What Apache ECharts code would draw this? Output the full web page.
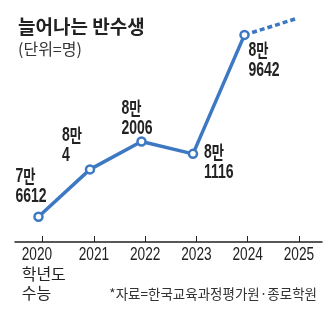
<!DOCTYPE html>
<html>
<head>
<meta charset="utf-8">
<script src="https://cdn.jsdelivr.net/npm/echarts@6/dist/echarts.min.js"></script>
<style>
  html, body { margin: 0; padding: 0; background: #fff; }
  #chart { width: 336px; height: 332px; }
</style>
</head>
<body>
<div id="chart"></div>
<script>
// Suneung applicants re-taking the exam while enrolled in university
const years = [2020, 2021, 2022, 2023, 2024, 2025];
const yearLabels = ['2020', '2021', '2022', '2023', '2024', '2025'];
const firstYearNote = ['학년도', '수능'];
const applicants = [76612, 80004, 82006, 81116, 89642];   // 2020–2024 actual
const forecast2025 = 90800;                                 // 2025 projection (dashed)

// where each value label sits relative to its point (text box top-left)
const labelOffsets = [[-23, -50], [-28, -44], [-20, -43], [11, -11], [4, 6]];

const BLUE = '#3d78c2';
const INK = '#222';
const SANS = "'Liberation Sans', 'Noto Sans CJK KR', sans-serif";
const KR = "'Noto Sans CJK KR', sans-serif";
const NARROW_X = 0.7;   // horizontal squeeze for the condensed figures

// "8만\n9642" style: ten-thousands + 만, then the remainder
const fmtMan = v => '{d|' + Math.floor(v / 10000) + '}{k|만}\n{d|' + (v % 10000) + '}';

const actualData = applicants.map((v, i) => [years[i], v]);
const forecastData = [
  [years[4], applicants[4]],
  [years[5], forecast2025]
];

const chart = echarts.init(document.getElementById('chart'), null, { renderer: 'canvas' });
chart.setOption({
  animation: false,
  title: [
    {
      text: '늘어나는 반수생', left: 13, top: 12,
      textStyle: { fontFamily: KR, fontSize: 19, fontWeight: 'bold', color: INK }
    },
    {
      text: '(단위=명)', left: 13, top: 36,
      textStyle: { fontFamily: KR, fontSize: 16, fontWeight: 'normal', color: '#333' }
    },
    {
      text: '*자료=한국교육과정평가원·종로학원', right: 14, top: 282,
      textStyle: { fontFamily: KR, fontSize: 13.5, fontWeight: 'normal', color: '#333' }
    }
  ],
  grid: { left: 15, right: 14, top: 2, bottom: 90, containLabel: false },
  xAxis: [
    {
      // visible year axis (labels drawn by the custom series below)
      type: 'value', min: 2019.46, max: 2025.45,
      axisLine: { show: true, lineStyle: { color: INK, width: 1.5 } },
      axisTick: { show: true, inside: true, length: 6, customValues: years, lineStyle: { color: INK, width: 1 } },
      splitLine: { show: false },
      axisLabel: { show: false }
    },
    {
      // data positioning axis
      type: 'value', min: 2019.544, max: 2025.505, show: false
    }
  ],
  yAxis: {
    type: 'value', min: 74800, max: 92000, show: false,
    splitLine: { show: false }
  },
  series: [
    {
      type: 'line',
      xAxisIndex: 1,
      data: forecastData,
      symbol: 'none',
      z: 1,
      lineStyle: { color: BLUE, width: 3.5, type: [5, 3] }
    },
    {
      type: 'line',
      xAxisIndex: 1,
      data: actualData,
      z: 3,
      symbol: 'circle',
      symbolSize: 8,
      itemStyle: { color: '#fff', borderColor: BLUE, borderWidth: 2.5 },
      lineStyle: { color: BLUE, width: 3.5 },
      emphasis: { disabled: true }
    },
    {
      // value labels in condensed figures
      type: 'custom',
      xAxisIndex: 1,
      clip: false,
      z: 4,
      data: actualData,
      renderItem: (params, api) => {
        const v = api.value(1);
        const p = api.coord([api.value(0), v]);
        const off = labelOffsets[params.dataIndex];
        return {
          type: 'text',
          x: p[0] + off[0], y: p[1] + off[1],
          scaleX: NARROW_X,
          style: {
            text: fmtMan(v), fill: INK,
            fontFamily: SANS, fontSize: 20, fontWeight: 'bold', lineHeight: 20,
            align: 'left', verticalAlign: 'top',
            rich: {
              d: { fontFamily: SANS, fontSize: 20, fontWeight: 'bold', lineHeight: 20, fill: INK },
              k: { fontFamily: KR, fontSize: 19, fontWeight: 'bold', lineHeight: 20, fill: INK }
            }
          }
        };
      }
    },
    {
      // year tick labels
      type: 'custom',
      xAxisIndex: 0,
      clip: false,
      z: 4,
      data: years.map(y => [y, 74800]),
      renderItem: (params, api) => {
        const i = params.dataIndex;
        const p = api.coord([api.value(0), api.value(1)]);
        const first = i === 0;
        const x = first ? p[0] - 21 : p[0];
        const children = [{
          type: 'text', x: x, y: p[1] + 3, scaleX: 0.72,
          style: {
            text: yearLabels[i], fill: INK,
            fontFamily: SANS, fontSize: 19, lineHeight: 19,
            align: first ? 'left' : 'center', verticalAlign: 'top'
          }
        }];
        if (first) {
          children.push({
            type: 'text', x: x, y: p[1] + 22,
            style: {
              text: firstYearNote.join('\n'), fill: INK,
              fontFamily: KR, fontSize: 16, lineHeight: 19,
              align: 'left', verticalAlign: 'top'
            }
          });
        }
        return { type: 'group', children: children };
      }
    }
  ]
});
</script>
</body>
</html>
